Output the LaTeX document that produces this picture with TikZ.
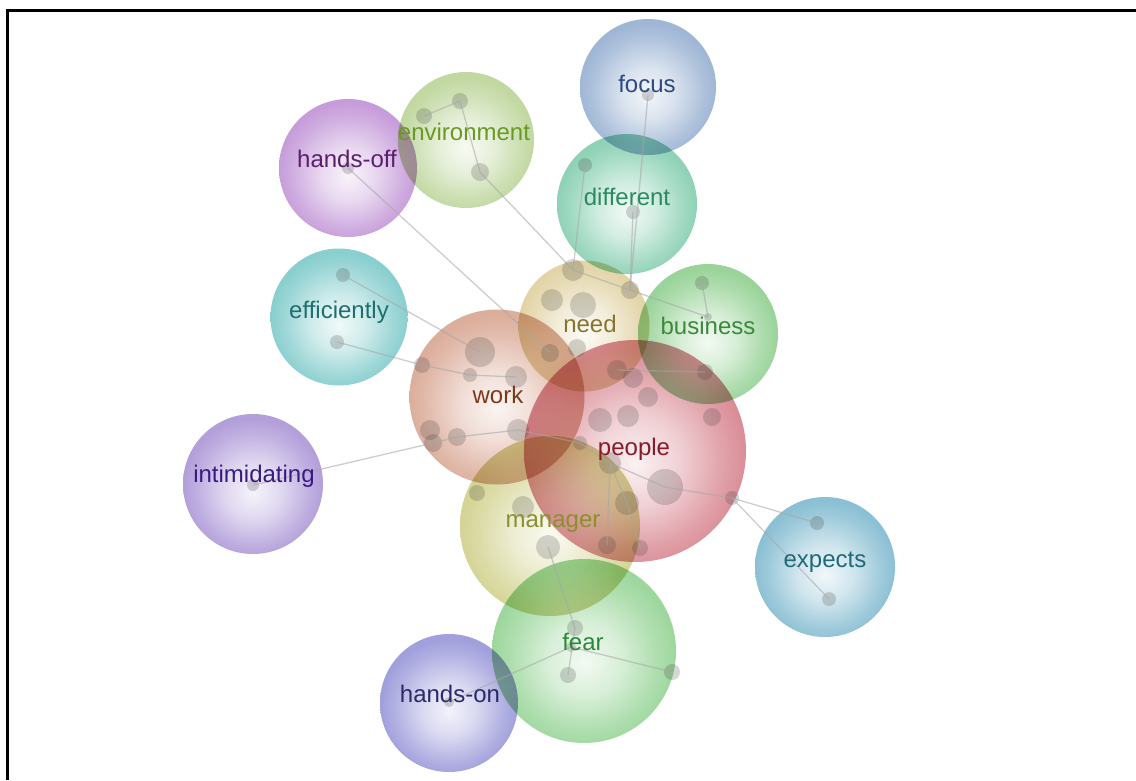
\documentclass[tikz,border=0pt]{standalone}
\usepackage{fontspec}
\setmainfont{Liberation Sans}
\makeatletter
\pgfdeclareradialshading[tikz@ball]{bubble}{\pgfpoint{0bp}{-3bp}}{%
  color(0bp)=(tikz@ball!10!white);
  color(10bp)=(tikz@ball!33!white);
  color(20bp)=(tikz@ball!68!white);
  color(25bp)=(tikz@ball!82!white);
  color(50bp)=(tikz@ball!82!white)}
\makeatother
\definecolor{cFocus}{HTML}{8AA6CC}
\definecolor{cEnv}{HTML}{B3CF8C}
\definecolor{cHoff}{HTML}{BA88D2}
\definecolor{cDiff}{HTML}{76C8A6}
\definecolor{cEff}{HTML}{70C4C4}
\definecolor{cNeed}{HTML}{DCCB94}
\definecolor{cBus}{HTML}{84CA84}
\definecolor{cWork}{HTML}{D49C86}
\definecolor{cPeople}{HTML}{D27480}
\definecolor{cIntim}{HTML}{A28AD2}
\definecolor{cMan}{HTML}{CACA7C}
\definecolor{cExp}{HTML}{72B2CA}
\definecolor{cFear}{HTML}{88CE88}
\definecolor{cHon}{HTML}{8C8AD4}
\definecolor{tFocus}{HTML}{2C4A80}
\definecolor{tEnv}{HTML}{6A9A22}
\definecolor{tHoff}{HTML}{5A1F6A}
\definecolor{tDiff}{HTML}{2A8A60}
\definecolor{tEff}{HTML}{1F6F70}
\definecolor{tNeed}{HTML}{857530}
\definecolor{tBus}{HTML}{3A8A3A}
\definecolor{tWork}{HTML}{7A3A1A}
\definecolor{tPeople}{HTML}{8A1A2A}
\definecolor{tIntim}{HTML}{3A1A80}
\definecolor{tMan}{HTML}{8A9030}
\definecolor{tExp}{HTML}{1F6A7A}
\definecolor{tFear}{HTML}{2A8A3A}
\definecolor{tHon}{HTML}{2A2A6A}
\tikzset{
  bubble/.style 2 args={circle, inner sep=0pt, minimum size=#2, shade, ball color=#1, shading=bubble, blend mode=multiply},
  gdot/.style={circle, inner sep=0pt, minimum size=#1, fill=black!80, fill opacity=0.2},
  conn/.style={draw=black!35, line width=1.3pt, draw opacity=0.55},
  lbl/.style={anchor=base, inner sep=0pt, font=\fontsize{24}{28}\selectfont}
}
\begin{document}
\begin{tikzpicture}[x=1pt,y=-1pt]
\useasboundingbox (0,0) rectangle (1136,780);
\fill[white] (0,0) rectangle (1136,780);
% bubbles
\node[bubble={cFocus}{136pt}] (bFocus) at (648,87) {};
\node[bubble={cEnv}{136pt}] (bEnv) at (466,140) {};
\node[bubble={cHoff}{138pt}] (bHoff) at (348,168) {};
\node[bubble={cDiff}{140pt}] (bDiff) at (627,204) {};
\node[bubble={cEff}{137pt}] (bEff) at (339,317) {};
\node[bubble={cNeed}{131pt}] (bNeed) at (584,326) {};
\node[bubble={cBus}{140pt}] (bBus) at (708,334) {};
\node[bubble={cWork}{175pt}] (bWork) at (497,397) {};
\node[bubble={cPeople}{222pt}] (bPeople) at (635,451) {};
\node[bubble={cIntim}{140pt}] (bIntim) at (253,484) {};
\node[bubble={cMan}{180pt}] (bMan) at (550,526) {};
\node[bubble={cExp}{140pt}] (bExp) at (825,567) {};
\node[bubble={cFear}{184pt}] (bFear) at (584,651) {};
\node[bubble={cHon}{138pt}] (bHon) at (449,703) {};
% dots
\node[gdot=16pt] (e1) at (424,116) {};
\node[gdot=16pt] (e2) at (460,101) {};
\node[gdot=18pt] (e3) at (480,172) {};
\node[gdot=12pt] (h1) at (348,168) {};
\node[gdot=12pt] (f1) at (648,95) {};
\node[gdot=14pt] (d1) at (585,165) {};
\node[gdot=14pt] (d2) at (633,212) {};
\node[gdot=14pt] (ef1) at (343,275) {};
\node[gdot=14pt] (ef2) at (337,342) {};
\node[gdot=12pt] (i1) at (253,485) {};
\node[gdot=22pt] (n1) at (573,270) {};
\node[gdot=22pt] (n2) at (552,300) {};
\node[gdot=26pt] (n3) at (583,305) {};
\node[gdot=18pt] (n4) at (630,290) {};
\node[gdot=18pt] (n5) at (577,348) {};
\node[gdot=18pt] (n6) at (550,353) {};
\node[gdot=14pt] (bu1) at (702,283) {};
\node[gdot=8pt] (bu2) at (708,317) {};
\node[gdot=30pt] (w1) at (480,352) {};
\node[gdot=14pt] (w2) at (470,375) {};
\node[gdot=22pt] (w3) at (516,377) {};
\node[gdot=16pt] (w4) at (422,365) {};
\node[gdot=20pt] (w5) at (430,430) {};
\node[gdot=18pt] (w6) at (433,443) {};
\node[gdot=18pt] (w7) at (457,437) {};
\node[gdot=22pt] (w8) at (518,430) {};
\node[gdot=20pt] (p1) at (617,370) {};
\node[gdot=20pt] (p2) at (633,378) {};
\node[gdot=20pt] (p3) at (648,397) {};
\node[gdot=24pt] (p4) at (600,420) {};
\node[gdot=22pt] (p5) at (628,416) {};
\node[gdot=14pt] (p6) at (580,443) {};
\node[gdot=18pt] (p7) at (712,417) {};
\node[gdot=16pt] (p8) at (705,372) {};
\node[gdot=22pt] (p9) at (610,463) {};
\node[gdot=36pt] (p10) at (665,487) {};
\node[gdot=14pt] (p11) at (732,498) {};
\node[gdot=24pt] (m1) at (627,503) {};
\node[gdot=22pt] (m2) at (523,507) {};
\node[gdot=16pt] (m3) at (477,493) {};
\node[gdot=24pt] (m4) at (548,547) {};
\node[gdot=18pt] (m5) at (607,545) {};
\node[gdot=16pt] (m6) at (640,548) {};
\node[gdot=14pt] (x1) at (817,523) {};
\node[gdot=14pt] (x2) at (829,599) {};
\node[gdot=16pt] (fe1) at (575,628) {};
\node[gdot=16pt] (fe2) at (568,675) {};
\node[gdot=16pt] (fe3) at (672,672) {};
\node[gdot=10pt] (fe4) at (571,647) {};
\node[gdot=10pt] (ho1) at (449,702) {};
% connectors
\draw[conn] (e1.center) -- (e2.center);
\draw[conn] (e2.center) -- (e3.center);
\draw[conn] (e3.center) -- (n1.center);
\draw[conn] (h1.center) -- (n6.center);
\draw[conn] (f1.center) -- (n4.center);
\draw[conn] (d1.center) -- (n1.center);
\draw[conn] (d2.center) -- (n4.center);
\draw[conn] (ef1.center) -- (w1.center);
\draw[conn] (ef2.center) -- (w4.center);
\draw[conn] (w4.center) -- (w2.center);
\draw[conn] (w2.center) -- (w3.center);
\draw[conn] (i1.center) -- (w6.center);
\draw[conn] (w6.center) -- (w7.center);
\draw[conn] (w7.center) -- (w8.center);
\draw[conn] (w8.center) -- (p6.center);
\draw[conn] (n1.center) -- (n4.center);
\draw[conn] (n4.center) -- (bu2.center);
\draw[conn] (bu2.center) -- (bu1.center);
\draw[conn] (p1.center) -- (p8.center);
\draw[conn] (p6.center) -- (p9.center);
\draw[conn] (p9.center) -- (p10.center);
\draw[conn] (p10.center) -- (p11.center);
\draw[conn] (p11.center) -- (x1.center);
\draw[conn] (p11.center) -- (x2.center);
\draw[conn] (p9.center) -- (m5.center);
\draw[conn] (p9.center) -- (m1.center);
\draw[conn] (m1.center) -- (m6.center);
\draw[conn] (m4.center) -- (fe1.center);
\draw[conn] (fe1.center) -- (fe2.center);
\draw[conn] (fe4.center) -- (ho1.center);
\draw[conn] (fe4.center) -- (fe3.center);
% labels
\node[lbl, text=tFocus] (lFocus) at (647,92) {focus};
\node[lbl, text=tEnv] (lEnv) at (464,140) {environment};
\node[lbl, text=tHoff] (lHoff) at (347,167) {hands-off};
\node[lbl, text=tDiff] (lDiff) at (627,205) {different};
\node[lbl, text=tEff] (lEff) at (339,318) {efficiently};
\node[lbl, text=tNeed] (lNeed) at (590,332) {need};
\node[lbl, text=tBus] (lBus) at (708,334) {business};
\node[lbl, text=tWork] (lWork) at (498,403) {work};
\node[lbl, text=tPeople] (lPeople) at (634,455) {people};
\node[lbl, text=tIntim] (lIntim) at (254,482) {intimidating};
\node[lbl, text=tMan] (lMan) at (553,527) {manager};
\node[lbl, text=tExp] (lExp) at (825,567) {expects};
\node[lbl, text=tFear] (lFear) at (583,650) {fear};
\node[lbl, text=tHon] (lHon) at (450,702) {hands-on};
% frame
\draw[line width=3pt] (1136,10) -- (7,10) -- (7,780);
\end{tikzpicture}
\end{document}
